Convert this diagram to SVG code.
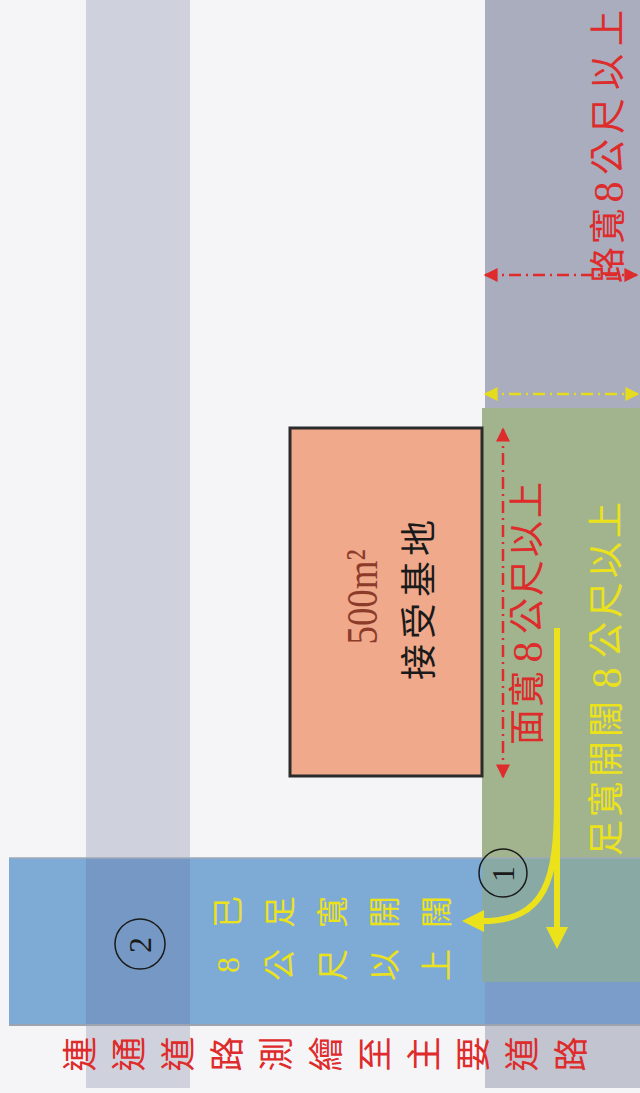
<svg xmlns="http://www.w3.org/2000/svg" width="640" height="1093" viewBox="0 0 640 1093">
<style>
.cjk{font-family:"Liberation Serif","Noto Sans CJK TC",serif;text-anchor:middle;dominant-baseline:central}
.red{fill:#de2b2b}
.yel{fill:#ece21c}
.num{font-family:"Liberation Serif",serif;font-size:32px;fill:#1a1a1a;text-anchor:middle;dominant-baseline:central}
.dash-red{stroke:#de2b2b;stroke-width:2.5;stroke-dasharray:12 5 2 5;fill:none}
.dash-yel{stroke:#e6dc1e;stroke-width:2.5;stroke-dasharray:12 5 2 5;fill:none}
.yarrow{stroke:#ece21c;stroke-width:6;fill:none}
</style>
<defs>
<marker id="mr" viewBox="0 0 10 10" refX="9" refY="5" markerUnits="userSpaceOnUse" markerWidth="15" markerHeight="14" orient="auto-start-reverse"><path d="M0,0 L10,5 L0,10 Z" fill="#de2b2b"/></marker>
<marker id="my" viewBox="0 0 10 10" refX="9" refY="5" markerUnits="userSpaceOnUse" markerWidth="15" markerHeight="14" orient="auto-start-reverse"><path d="M0,0 L10,5 L0,10 Z" fill="#e6dc1e"/></marker>
</defs>
<rect width="640" height="1093" fill="#f5f5f8"/>

<g id="road-left">
<rect x="86" y="0" width="104" height="1088" fill="#cfd2dc"/>
</g>
<g id="road-main">
<rect x="485" y="0" width="155" height="1088" fill="#aaadbd"/>
<rect x="485" y="1024" width="155" height="64" fill="#c2c4d0"/>
</g>
<g id="frontage-green">
<rect x="482" y="408" width="158" height="574" fill="#a1b48d"/>
</g>
<g id="connector-road">
<rect x="9" y="858" width="631" height="166" fill="#7eaad6"/>
<rect x="86" y="858" width="104" height="166" fill="#7599c4"/>
<rect x="482" y="858" width="158" height="124" fill="#89aaa4"/>
<rect x="485" y="982" width="155" height="42" fill="#7b9dca"/>
<line x1="9" y1="858" x2="640" y2="858" stroke="#9fa9b8" stroke-width="1.5"/>
<line x1="9" y1="1025" x2="640" y2="1025" stroke="#9ea3b0" stroke-width="2"/>
</g>
<g id="site">
<rect x="290" y="428" width="192" height="348" fill="#f0a98a" stroke="#2b2b2b" stroke-width="3"/>
<text transform="translate(377,597) rotate(-90)" font-family="Liberation Serif,serif" font-size="44" fill="#8c3b2b" text-anchor="middle" textLength="95" lengthAdjust="spacingAndGlyphs">500m²</text>
<text class="cjk" transform="rotate(-90)" y="420" font-size="36" fill="#1a1a1a"><tspan x="-662">接</tspan><tspan x="-621">受</tspan><tspan x="-579">基</tspan><tspan x="-538">地</tspan></text>
</g>

<g id="connectors">
<line class="dash-red" x1="485" y1="275" x2="637" y2="275" marker-start="url(#mr)" marker-end="url(#mr)"/>
<line class="dash-yel" x1="485" y1="394" x2="638" y2="394" marker-start="url(#my)" marker-end="url(#my)"/>
<line class="dash-red" x1="503" y1="429" x2="503" y2="777" marker-start="url(#mr)" marker-end="url(#mr)"/>
<path class="yarrow" d="M557 628 L557 930"/>
<polygon points="557,949 546,927 568,927" fill="#ece21c"/>
<path class="yarrow" d="M557 800 C557 880 546 921 482 921"/>
<polygon points="462,921 484,910 484,932" fill="#ece21c"/>
</g>

<g id="label-road-width">
<text class="cjk red" transform="rotate(-90)" y="609" font-size="36"><tspan x="-265">路</tspan><tspan x="-226">寬</tspan><tspan x="-192" font-size="42">8</tspan><tspan x="-157">公</tspan><tspan x="-116">尺</tspan><tspan x="-72">以</tspan><tspan x="-28">上</tspan></text>
</g>
<g id="label-frontage">
<text class="cjk red" transform="rotate(-90)" y="528" font-size="36"><tspan x="-727">面</tspan><tspan x="-689">寬</tspan><tspan x="-652" font-size="42">8</tspan><tspan x="-616">公</tspan><tspan x="-578">尺</tspan><tspan x="-539">以</tspan><tspan x="-500">上</tspan></text>
</g>
<g id="label-open">
<text class="cjk yel" transform="rotate(-90)" y="607" font-size="36"><tspan x="-838">足</tspan><tspan x="-799">寬</tspan><tspan x="-759">開</tspan><tspan x="-719">闊</tspan><tspan x="-678" font-size="42">8</tspan><tspan x="-640">公</tspan><tspan x="-600">尺</tspan><tspan x="-560">以</tspan><tspan x="-520">上</tspan></text>
</g>
<g id="marker-1">
<circle cx="503" cy="873" r="24" fill="none" stroke="#1a1a1a" stroke-width="1.5"/>
<text class="num" transform="translate(503,874) rotate(-90)">1</text>
</g>
<g id="marker-2">
<circle cx="140" cy="944" r="25" fill="none" stroke="#1a1a1a" stroke-width="1.5"/>
<text class="num" transform="translate(140,945) rotate(-90)">2</text>
</g>
<g id="label-connector">
<text class="cjk yel" transform="rotate(-90)" x="-912 -912 -912 -912 -912" y="228 280 333 385 437" font-size="32">已足寬開闊</text>
<text class="cjk yel" transform="rotate(-90)" x="-965 -965 -965 -965 -965" y="228 280 333 385 437" font-size="32">8公尺以上</text>
</g>
<g id="label-bottom">
<text class="cjk red" transform="rotate(-90)" x="-1054 -1054 -1054 -1054 -1054 -1054 -1054 -1054 -1054 -1054 -1054" y="81 130 179 228 277 327 376 425 474 523 572" font-size="35">連通道路測繪至主要道路</text>
</g>
</svg>
